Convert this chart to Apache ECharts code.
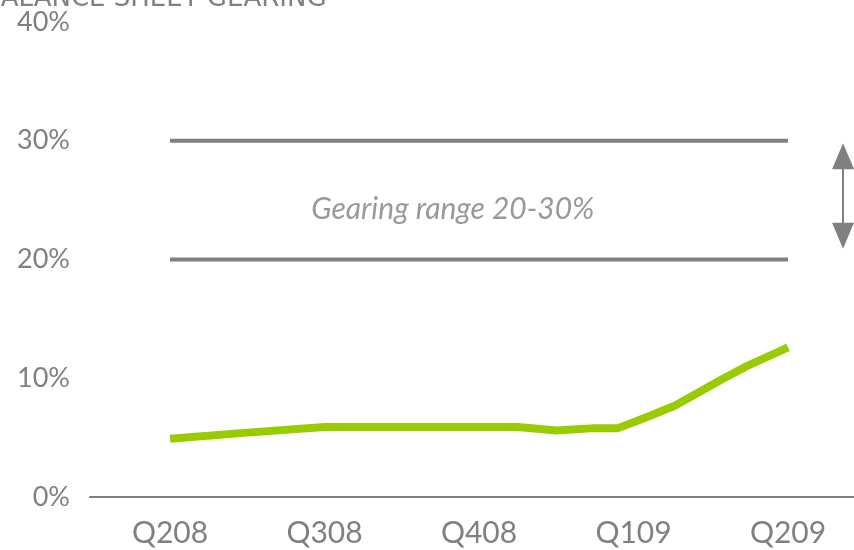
<!DOCTYPE html>
<html>
<head>
<meta charset="utf-8">
<script src="https://cdn.jsdelivr.net/npm/echarts@6/dist/echarts.min.js"></script>
<style>
  html, body { margin: 0; padding: 0; background: #fff; }
  #chart { width: 854px; height: 550px; }
</style>
</head>
<body>
<div id="chart"></div>
<script>
// quarter labels, positions are 0..4 on the x value axis
const quarters = ['Q208', 'Q308', 'Q408', 'Q109', 'Q209'];
const quarterPos = [0, 1, 2, 3, 4];

// gearing line, x in quarter units
const gearX = [0, 0.48, 1, 2, 2.25, 2.5, 2.75, 2.9, 3, 3.1, 3.27, 3.42, 3.57, 3.73, 4];
const gearY = [4.9, 5.4, 5.9, 5.9, 5.9, 5.6, 5.8, 5.8, 6.3, 6.8, 7.7, 8.8, 9.9, 11.0, 12.6];

// gearing range band
const rangeLow = 20;
const rangeHigh = 30;
const rangeLabel = 'Gearing range 20-30%';

const gray = '#808080';
const font = 'Lato';

const chart = echarts.init(document.getElementById('chart'));

const option = {
  animation: false,
  title: {
    text: 'BALANCE SHEET GEARING',
    left: -22,
    top: -19,
    textStyle: { color: gray, fontFamily: 'DejaVu Sans', fontWeight: 'normal', fontSize: 26 },
  },
  grid: { left: 90, right: 0, top: 22, bottom: 53 },
  xAxis: {
    type: 'value',
    min: -0.518,
    max: 4.427,
    splitLine: { show: false },
    axisLine: { show: true, lineStyle: { color: gray, width: 2 } },
    axisTick: { show: false },
    axisLabel: {
      customValues: quarterPos,
      formatter: (v) => quarters[Math.round(v)],
      color: gray,
      fontFamily: font,
      fontSize: 30,
      margin: 21,
    },
  },
  yAxis: {
    type: 'value',
    min: 0,
    max: 40,
    interval: 10,
    splitLine: { show: false },
    axisLine: { show: false },
    axisTick: { show: false },
    axisLabel: {
      formatter: '{value}%',
      color: gray,
      fontFamily: font,
      fontSize: 27,
      margin: 20,
    },
  },
  series: [
    {
      type: 'line',
      data: quarterPos.map((x) => [x, rangeHigh]),
      symbol: 'none',
      lineStyle: { color: gray, width: 4 },
      z: 2,
    },
    {
      type: 'line',
      data: quarterPos.map((x) => [x, rangeLow]),
      symbol: 'none',
      lineStyle: { color: gray, width: 4 },
      z: 2,
      markLine: {
        silent: true,
        symbol: ['triangle', 'triangle'],
        symbolSize: [22, 26],
        lineStyle: { color: gray, width: 2, type: 'solid' },
        label: { show: false },
        data: [[{ coord: [4.356, rangeHigh - 1.3] }, { coord: [4.356, rangeLow + 2.0] }]],
      },
    },
    {
      type: 'scatter',
      data: [[1.83, 24.2]],
      symbolSize: 0,
      label: {
        show: true,
        position: 'inside',
        formatter: rangeLabel,
        color: gray,
        fontFamily: font,
        fontStyle: 'italic',
        fontSize: 30,
      },
    },
    {
      type: 'line',
      data: gearX.map((x, i) => [x, gearY[i]]),
      symbol: 'none',
      lineStyle: { color: '#99cc00', width: 8 },
      z: 3,
    },
  ],
};

chart.setOption(option);
</script>
</body>
</html>
